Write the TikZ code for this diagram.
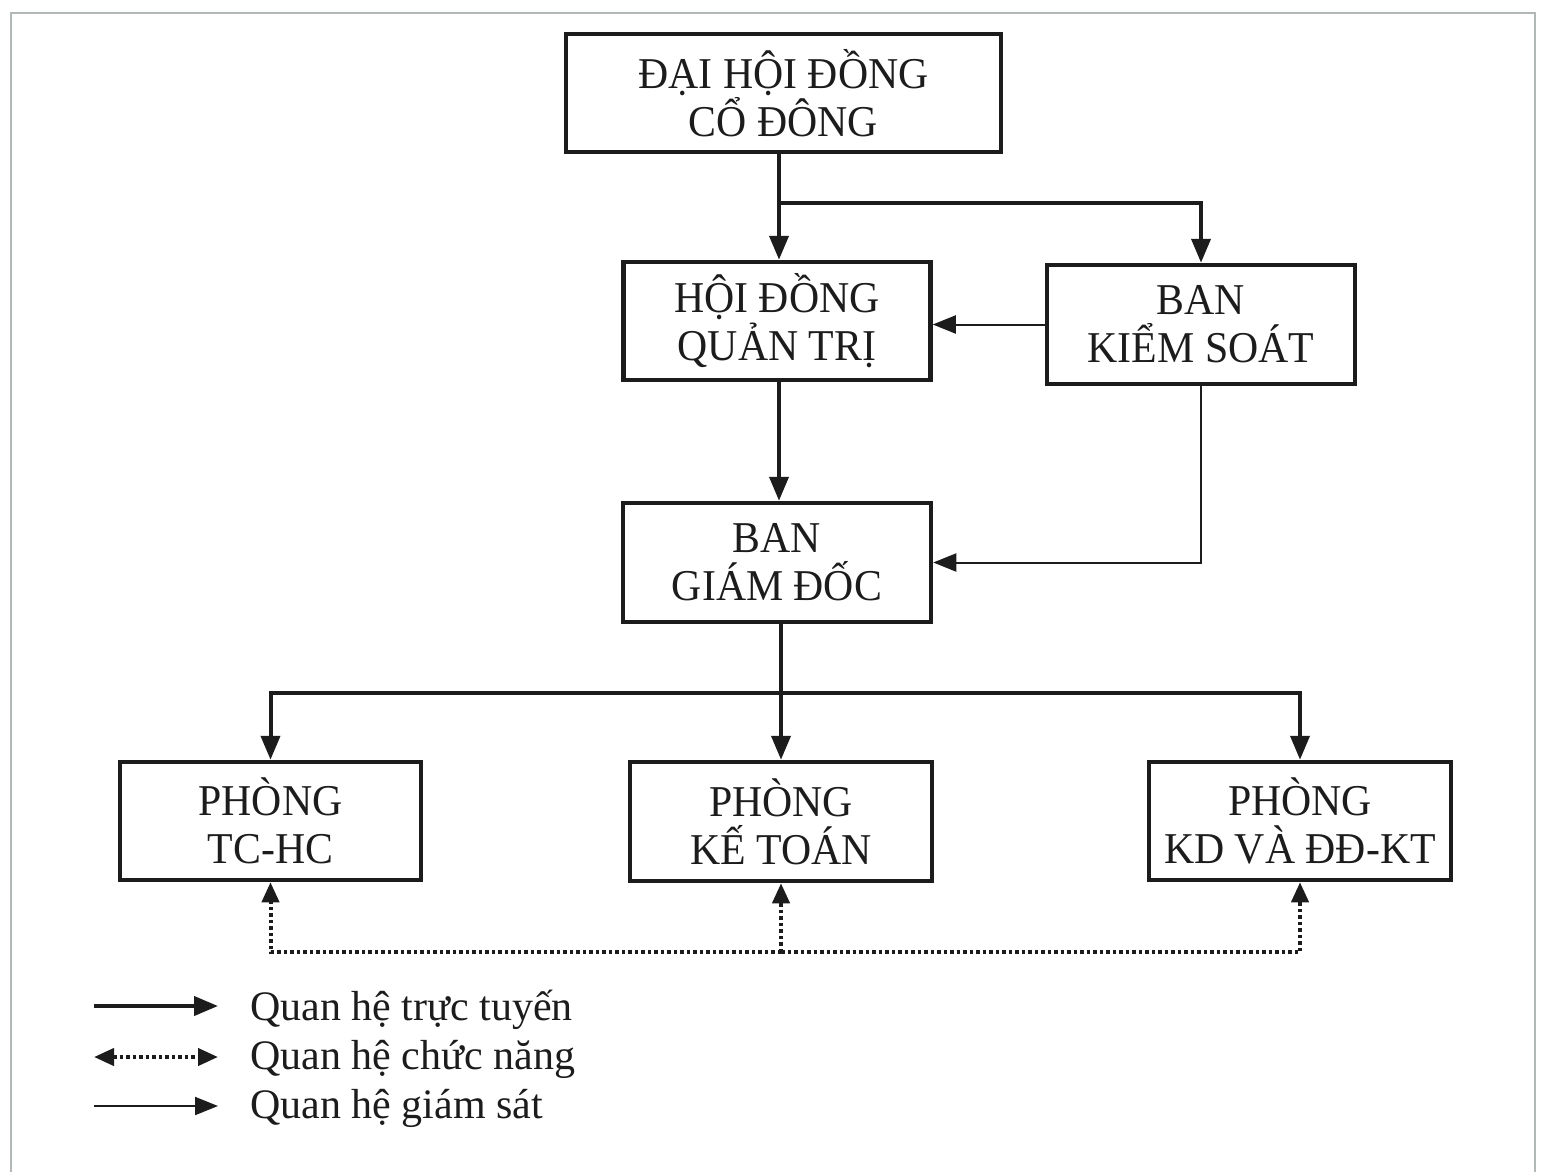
\documentclass[tikz,border=0pt]{standalone}
\usepackage{fontspec}
\setmainfont{Liberation Serif}
\newfontfamily\boxfont[FakeStretch=0.95]{Liberation Serif}
\usetikzlibrary{arrows.meta}
\definecolor{ink}{RGB}{28,28,28}
\definecolor{framegray}{RGB}{178,184,181}
\begin{document}
\begin{tikzpicture}[x=1pt,y=-1pt,
  orgbox/.style={draw=ink, line width=4.5pt, fill=white, inner sep=0pt,
    align=center, text=ink, font=\boxfont\fontsize{44}{48}\selectfont},
  online/.style={draw=ink, line width=4pt, -{Triangle[length=24pt,width=19pt]}},
  plainthick/.style={draw=ink, line width=4pt},
  watch/.style={draw=ink, line width=2pt, -{Triangle[length=23pt,width=18pt]}},
  func/.style={draw=ink, line width=4pt, dash pattern=on 3.5pt off 3pt,
    -{Triangle[length=20pt,width=17pt]}},
  legtext/.style={anchor=base west, inner sep=0pt, text=ink,
    font=\fontsize{42}{48}\selectfont}
]
\useasboundingbox (0,0) rectangle (1541,1172);
\fill[white] (0,0) rectangle (1541,1172);
\draw[framegray, line width=2pt] (11,1172) -- (11,13) -- (1535,13) -- (1535,1172);

% boxes
\node[orgbox, minimum width=435pt, minimum height=118pt] (dh) at (783.5,93) {ĐẠI HỘI ĐỒNG\\CỔ ĐÔNG};
\node[orgbox, minimum width=307pt, minimum height=118pt] (hd) at (777,321) {HỘI ĐỒNG\\QUẢN TRỊ};
\node[orgbox, minimum width=308pt, minimum height=119pt] (bks) at (1201,324.5) {BAN\\KIỂM SOÁT};
\node[orgbox, minimum width=308pt, minimum height=119pt] (bgd) at (777,562.5) {BAN\\GIÁM ĐỐC};
\node[orgbox, minimum width=301pt, minimum height=118pt] (tc) at (270.5,821) {PHÒNG\\TC-HC};
\node[orgbox, minimum width=302pt, minimum height=119pt] (kt) at (781,821.5) {PHÒNG\\KẾ TOÁN};
\node[orgbox, minimum width=302pt, minimum height=118pt] (kd) at (1300,821) {PHÒNG\\KD VÀ ĐĐ-KT};

% line relations
\coordinate (top) at (779,152);
\coordinate (br) at (779,203);
\draw[online] (top) -- (hd.north -| top);
\draw[online] (br) -| (bks.north);
\draw[online] (hd.south -| top) -- (bgd.north -| top);

\coordinate (bgdb) at (781,622);
\coordinate (bus) at (781,693);
\draw[plainthick] (bgdb) -- (bus);
\draw[online] (bus) -| (tc.north);
\draw[online] (bus) -| (kd.north);
\draw[online] (bus) -- (kt.north);

% supervision
\draw[watch] (bks.west) -- (bks.west -| hd.east);
\draw[watch] (bks.south) |- (bgd.east);

% functional
\coordinate (fb) at (781,952);
\draw[func] (fb) -| (tc.south);
\draw[func] (fb) -| (kd.south);
\draw[func] (fb) -- (kt.south);

% legend
\coordinate (l1a) at (94,1006); \coordinate (l1b) at (218,1006);
\coordinate (l2a) at (94,1057); \coordinate (l2b) at (218,1057);
\coordinate (l3a) at (94,1106); \coordinate (l3b) at (218,1106);
\draw[online] (l1a) -- (l1b);
\draw[func, {Triangle[length=20pt,width=17pt]}-{Triangle[length=20pt,width=17pt]}] (l2a) -- (l2b);
\draw[watch] (l3a) -- (l3b);
\node[legtext] (t1) at (250,1020) {Quan hệ trực tuyến};
\node[legtext] (t2) at (250,1069) {Quan hệ chức năng};
\node[legtext] (t3) at (250,1118) {Quan hệ giám sát};
\end{tikzpicture}
\end{document}
